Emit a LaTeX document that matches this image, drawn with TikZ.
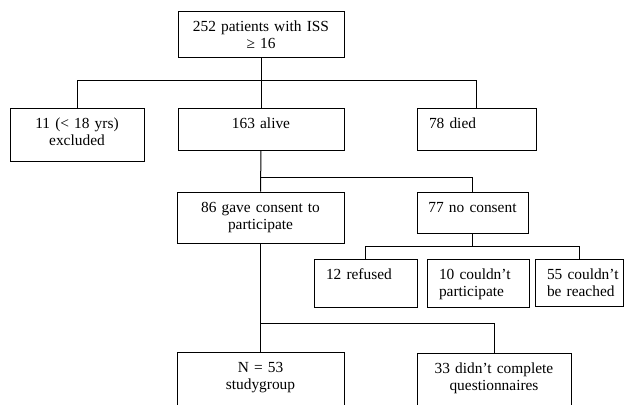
\documentclass[tikz,border=0pt]{standalone}
\usepackage{fontspec}
\setmainfont{Liberation Serif}
\usepackage{xcolor}
\usepackage{tikz}

\tikzset{
	box/.style 2 args={draw, anchor=north west, inner xsep=12pt, inner ysep=0pt,
		text height=20pt, text width=#1, text depth=#2, align=center},
	lbox/.style 2 args={box={#1}{#2}, align=left},
}

\begin{document}
\begin{tikzpicture}[x=1pt,y=-1pt,line width=1pt,
	font=\fontsize{15.4}{17.5}\selectfont]
	\path[use as bounding box] (0,0) rectangle (625,405);
	\scope[xshift=0.5pt,yshift=-0.5pt]
	\clip (-1,-1) rectangle (626,406);
	% boxes
	\node[box={142pt}{26pt}]  (total)    at (177,10)  {\mbox{252 patients with ISS}\\≥ 16};
	\node[box={110pt}{33pt}]  (excl)     at (9,107)   {11 (< 18 yrs)\\excluded};
	\node[box={142pt}{22pt}]  (alive)    at (177,107) {163 alive};
	\node[lbox={95pt}{22pt}]  (died)     at (416,107) {78 died};
	\node[box={95pt}{21pt}, inner xsep=8pt] (nocons) at (416,191) {\mbox{77 no consent}};
	\node[box={143pt}{31pt}]  (consent)  at (176,191) {86 gave consent to\\participate};
	\node[lbox={79pt}{28pt}]  (refused)  at (313,258) {12 refused};
	\node[lbox={78pt}{28pt}]  (couldnt)  at (426,258) {\mbox{10 couldn't}\\participate};
	\node[lbox={64pt}{27pt}]  (reached)  at (534,258) {\mbox{55 couldn't}\\\mbox{be reached}};
	\node[box={143pt}{60pt}]  (study)    at (176,351) {N = 53\\studygroup};
	\node[box={130pt}{60pt}]  (notdone)  at (416,352) {\mbox{33 didn't complete}\\questionnaires};
	% splits
	\coordinate (split1) at (260,80);
	\coordinate (split2) at (260,177);
	\coordinate (split3) at (472,246);
	\coordinate (split4) at (260,323);
	% lines
	\draw (total.south) -- (alive.north);
	\draw (excl.north) |- (split1) -| (died.north);
	\draw (alive.south) -- (consent.north);
	\draw (split2) -| (nocons.north);
	\draw (nocons.south) -- (split3);
	\draw (refused.north) |- (split3) -| (reached.north);
	\draw (consent.south) -- (study.north);
	\draw (split4) -| (notdone.north);
	\endscope
\end{tikzpicture}
\end{document}
